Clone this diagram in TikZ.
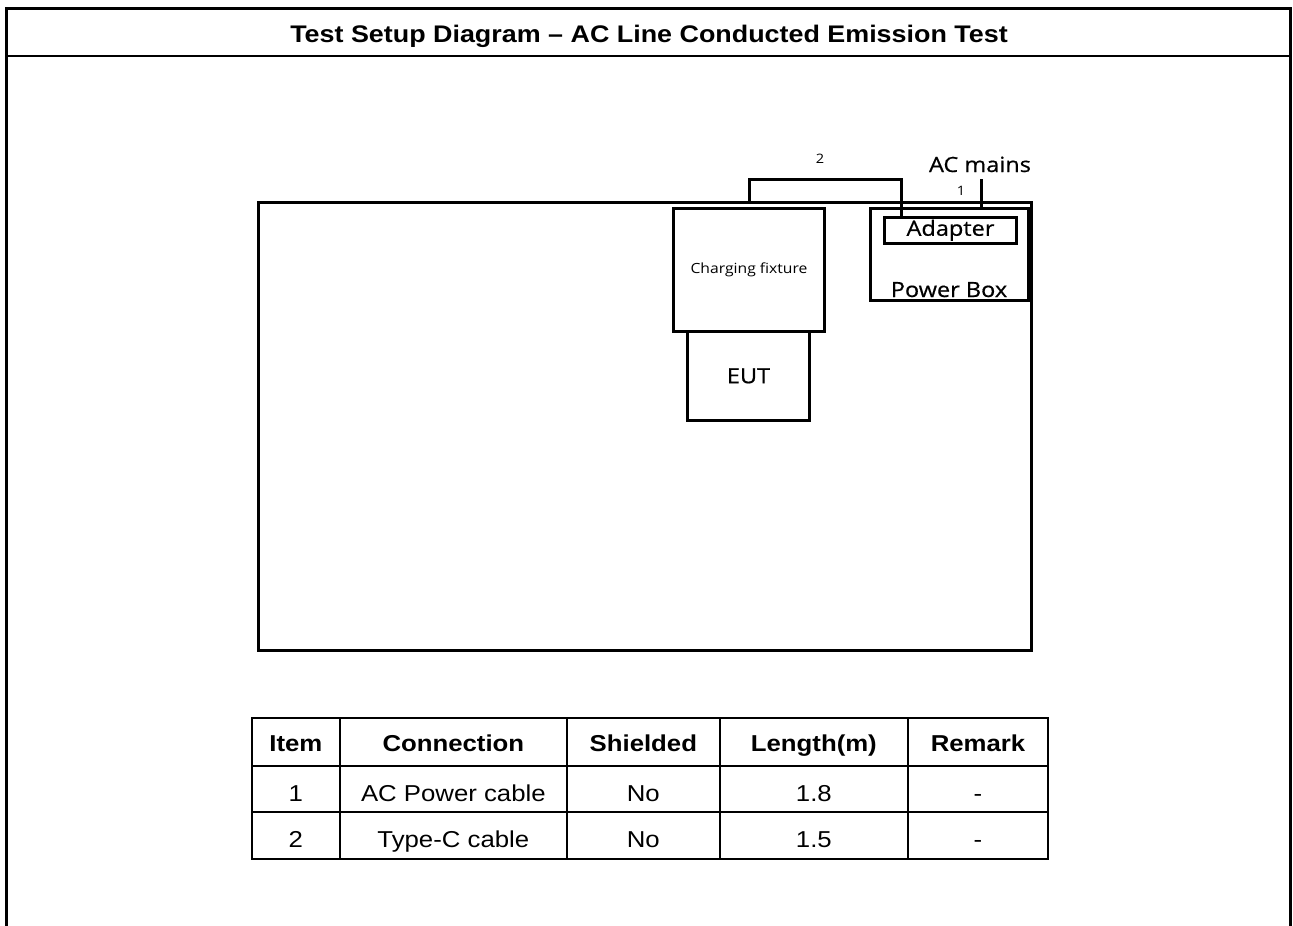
\documentclass[tikz,border=0pt]{standalone}
\usepackage{fontspec}
\setmainfont[FakeStretch=1.12]{Liberation Sans}
\newfontfamily\uifont[FakeStretch=1.12]{Open Sans}
\newfontfamily\uifontdark[FakeStretch=1.12,FakeBold=0.6]{Open Sans}
\usepackage{tikz}

\tikzset{
	box/.style={draw,line width=3pt,inner sep=0pt,font=\uifontdark\fontsize{21}{25}\selectfont},
	cable/.style={line width=3pt},
	uitext/.style={anchor=base,inner sep=0pt,font=\uifontdark\fontsize{21}{25}\selectfont},
	cablenum/.style={anchor=base,inner sep=0pt,font=\uifont\fontsize{13}{15}\selectfont},
	tabrule/.style={line width=1.8pt,line cap=rect},
	headcell/.style={anchor=base,inner sep=0pt,font=\bfseries\fontsize{23}{27}\selectfont},
	bodycell/.style={anchor=base,inner sep=0pt,font=\fontsize{23}{27}\selectfont}
}

\begin{document}
\begin{tikzpicture}[x=1pt,y=-1pt]
			\useasboundingbox (0,0) rectangle (1293,926);
			
			\draw[line width=3pt] (6.5,926) -- (6.5,8.5) -- (1290.5,8.5) -- (1290.5,926);
			\draw[line width=2.3pt] (6.5,56) -- (1290.5,56);
			\node[anchor=base,inner sep=0pt,font=\bfseries\fontsize{24}{28}\selectfont] (title) at (649,42)
				{Test Setup Diagram -- AC Line Conducted Emission Test};
			
			\node[box,minimum width=773.4pt,minimum height=447.5pt] (bench) at (645,426.25) {};
			\node[box,minimum width=151.4pt,minimum height=123pt,font=\uifont\fontsize{14}{17}\selectfont] (fixture) at (749,269.5) {Charging fixture};
			\node[box,minimum width=121.6pt,minimum height=89.7pt] (eut) at (748.5,375.85) {EUT};
			\node[box,minimum width=158.3pt,minimum height=92pt] (powerbox) at (949.2,254.8) {};
			\node[box,minimum width=132.4pt,minimum height=26pt] (adapter) at (950.5,230.3) {Adapter};
			\node[uitext] (pblabel) at (949,297) {Power Box};
			
			\coordinate (typec) at (901.7,179.2);
			\coordinate (mains) at (981,179.3);
			\draw[cable] (fixture.north |- bench.north) |- (typec) -- (typec |- adapter.north);
			\draw[cable] (mains) -- (mains |- powerbox.north);
			
			\node[uitext] (acmains) at (980,172) {AC mains};
			\node[cablenum] (numtwo) at (820,163) {2};
			\node[cablenum] (numone) at (961,195) {1};
			
			\foreach \x in {251.7,340,566.7,720,907.7,1048.3}
				\draw[tabrule] (\x,718) -- (\x,859);
			\foreach \y in {718,765.7,812.3,859}
				\draw[tabrule] (251.7,\y) -- (1048.3,\y);
			
			\foreach \cx/\txt [count=\i] in {295.85/Item,453.35/Connection,643.35/Shielded,813.85/Length(m),978/Remark}
				\node[headcell] (head\i) at (\cx,751.5) {\txt};
			\foreach \cx/\txt [count=\i] in {295.85/1,453.35/AC Power cable,643.35/No,813.85/1.8,978/-}
				\node[bodycell] (rowone\i) at (\cx,801.5) {\txt};
			\foreach \cx/\txt [count=\i] in {295.85/2,453.35/Type-C cable,643.35/No,813.85/1.5,978/-}
				\node[bodycell] (rowtwo\i) at (\cx,847.5) {\txt};
		\end{tikzpicture}
\end{document}
